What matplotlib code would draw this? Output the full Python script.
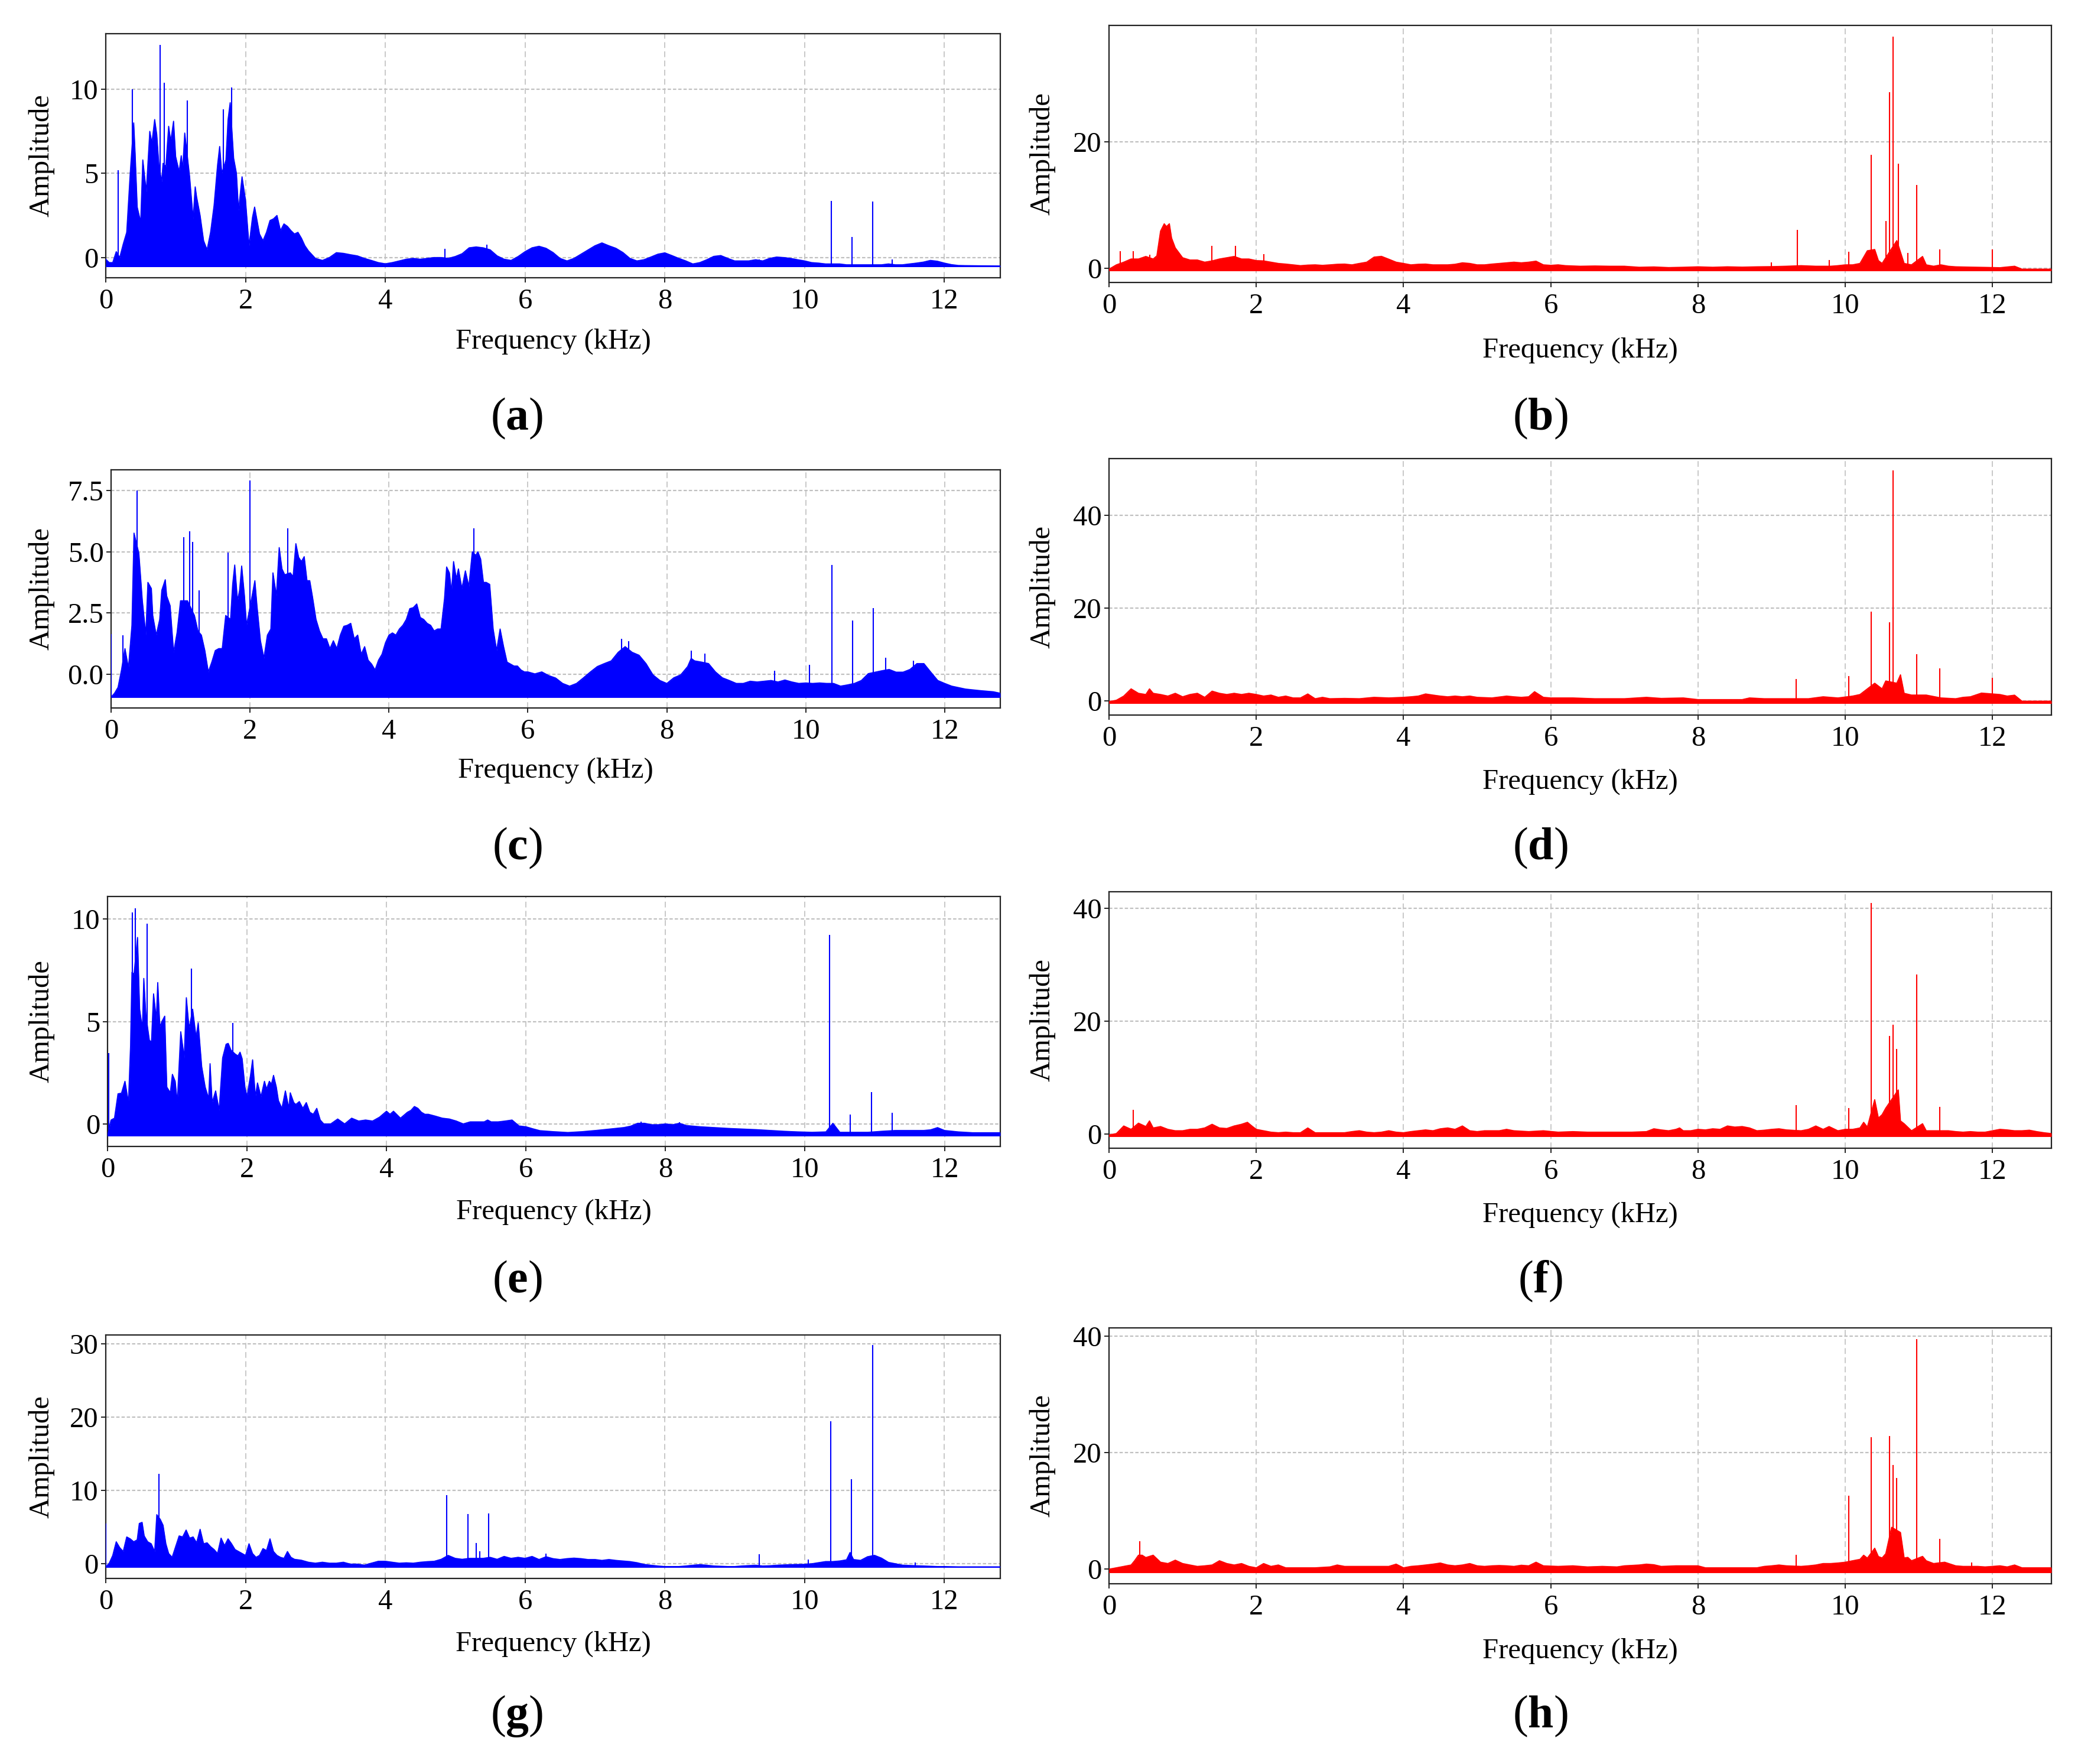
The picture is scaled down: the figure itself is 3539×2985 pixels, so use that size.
import matplotlib
matplotlib.use("Agg")
import matplotlib.pyplot as plt
from matplotlib.ticker import FixedLocator, FormatStrFormatter

plt.rcParams['font.family'] = ['Liberation Serif', 'DejaVu Serif']
plt.rcParams['mathtext.fontset'] = 'custom'
plt.rcParams['mathtext.rm'] = 'Liberation Serif'
plt.rcParams['mathtext.bf'] = 'Liberation Serif:bold'

# ---------------- data ----------------
# (a)
a_env_f = [0.0, 0.05, 0.1, 0.15, 0.2, 0.25, 0.3, 0.35, 0.4, 0.42, 0.45, 0.5, 0.53, 0.58, 0.63, 0.66, 0.7, 0.73, 0.76, 0.8,
           0.82, 0.86, 0.9, 0.93, 0.97, 1.0, 1.05, 1.08, 1.1, 1.13, 1.2, 1.25, 1.28, 1.3, 1.35, 1.4, 1.45, 1.5, 1.55, 1.6,
           1.63, 1.66, 1.72, 1.75, 1.78, 1.83, 1.87, 1.9, 1.95, 2.0, 2.05, 2.1, 2.13, 2.2, 2.25, 2.3, 2.35, 2.4, 2.45, 2.5,
           2.55, 2.6, 2.65, 2.7, 2.75, 2.8, 2.85, 2.9, 3.0, 3.1, 3.2, 3.3, 3.4, 3.5, 3.6, 3.7, 3.8, 3.9, 4.0, 4.1,
           4.2, 4.3, 4.4, 4.5, 4.6, 4.7, 4.8, 4.9, 5.0, 5.1, 5.2, 5.3, 5.4, 5.5, 5.6, 5.7, 5.8, 5.9, 6.0, 6.1,
           6.2, 6.3, 6.4, 6.5, 6.6, 6.7, 6.8, 6.9, 7.0, 7.1, 7.2, 7.3, 7.4, 7.5, 7.6, 7.7, 7.8, 7.9, 8.0, 8.1,
           8.2, 8.3, 8.4, 8.5, 8.6, 8.7, 8.8, 8.9, 9.0, 9.1, 9.2, 9.3, 9.4, 9.5, 9.6, 9.7, 9.8, 9.9, 10.0, 10.1,
           10.2, 10.3, 10.4, 10.5, 10.6, 10.7, 10.8, 10.9, 11.0, 11.1, 11.2, 11.3, 11.4, 11.5, 11.6, 11.7, 11.8, 11.9, 12.0, 12.1,
           12.2, 12.3, 12.5, 12.8]
a_env_a = [-0.1, -0.3, -0.3, 0.35, 0.0, 0.8, 1.5, 5.0, 8.0, 6.2, 3.0, 2.1, 5.8, 3.9, 7.5, 6.8, 8.2, 7.3, 5.5, 4.5,
           5.6, 5.4, 7.8, 6.9, 8.1, 6.0, 5.1, 6.05, 5.2, 7.4, 4.8, 2.3, 4.2, 3.6, 2.5, 1.0, 0.46, 1.5, 3.1, 5.5,
           6.6, 5.0, 5.8, 8.2, 9.2, 5.9, 5.0, 2.8, 4.8, 3.4, 0.7, 2.4, 3.0, 1.4, 1.0, 1.5, 2.2, 2.3, 2.5, 1.6,
           2.0, 1.85, 1.6, 1.4, 1.5, 1.15, 0.7, 0.4, -0.05, -0.17, 0.0, 0.29, 0.25, 0.17, 0.1, -0.05, -0.17, -0.3, -0.37, -0.3,
           -0.2, -0.1, -0.05, -0.1, -0.05, 0.0, 0.0, -0.05, 0.06, 0.23, 0.58, 0.63, 0.58, 0.46, 0.1, -0.1, -0.17, 0.06, 0.35, 0.58,
           0.67, 0.55, 0.3, -0.05, -0.2, -0.05, 0.2, 0.45, 0.7, 0.87, 0.7, 0.55, 0.3, -0.05, -0.2, -0.13, 0.03, 0.2, 0.28, 0.12,
           -0.05, -0.2, -0.38, -0.3, -0.13, 0.07, 0.12, -0.05, -0.2, -0.2, -0.2, -0.13, -0.2, -0.05, 0.03, 0.0, -0.05, -0.13, -0.2, -0.3,
           -0.33, -0.38, -0.38, -0.38, -0.43, -0.43, -0.43, -0.43, -0.43, -0.43, -0.38, -0.43, -0.43, -0.38, -0.33, -0.27, -0.17, -0.22, -0.33, -0.42,
           -0.47, -0.48, -0.49, -0.5]
a_floor = -0.55
a_spk_f = [0.18, 0.38, 0.78, 0.84, 1.17, 1.68, 1.8, 4.85, 5.45, 9.35, 10.38, 10.68, 10.97, 11.25]
a_spk_a = [5.2, 10.0, 12.65, 10.4, 9.35, 8.8, 10.1, 0.52, 0.75, -0.1, 3.38, 1.24, 3.33, -0.1]

# (b)
b_env_f = [0.0, 0.1, 0.2, 0.3, 0.4, 0.5, 0.6, 0.65, 0.7, 0.75, 0.78, 0.82, 0.85, 0.9, 1.0, 1.1, 1.2, 1.3, 1.4, 1.5,
           1.6, 1.7, 1.8, 1.9, 2.0, 2.1, 2.2, 2.3, 2.4, 2.5, 2.6, 2.7, 2.8, 2.9, 3.0, 3.1, 3.2, 3.3, 3.4, 3.5,
           3.6, 3.7, 3.8, 3.9, 4.0, 4.1, 4.2, 4.3, 4.4, 4.5, 4.6, 4.7, 4.8, 4.9, 5.0, 5.1, 5.2, 5.3, 5.4, 5.5,
           5.6, 5.7, 5.8, 5.9, 6.0, 6.1, 6.2, 6.4, 6.6, 6.8, 7.0, 7.2, 7.4, 7.6, 7.8, 8.0, 8.2, 8.4, 8.6, 8.8,
           9.0, 9.2, 9.4, 9.6, 9.8, 9.9, 10.0, 10.1, 10.2, 10.3, 10.4, 10.45, 10.5, 10.7, 10.8, 10.9, 11.05, 11.1, 11.2, 11.3,
           11.4, 11.5, 11.7, 11.9, 12.1, 12.3, 12.4, 12.8]
b_env_a = [-0.1, 0.58, 1.0, 1.5, 1.5, 1.9, 1.5, 2.0, 5.9, 7.05, 6.6, 7.05, 4.8, 3.26, 1.7, 1.34, 1.34, 1.0, 1.2, 1.5,
           1.7, 1.9, 1.5, 1.5, 1.25, 1.2, 1.0, 0.8, 0.7, 0.58, 0.45, 0.54, 0.58, 0.5, 0.58, 0.67, 0.7, 0.58, 0.8, 1.0,
           1.8, 1.92, 1.47, 1.0, 0.8, 0.58, 0.67, 0.7, 0.58, 0.58, 0.58, 0.67, 0.9, 0.8, 0.58, 0.58, 0.7, 0.8, 0.9, 1.0,
           0.9, 1.0, 1.16, 0.58, 0.5, 0.58, 0.45, 0.36, 0.4, 0.36, 0.36, 0.2, 0.25, 0.15, 0.2, 0.27, 0.2, 0.27, 0.22, 0.27,
           0.3, 0.36, 0.45, 0.36, 0.36, 0.45, 0.58, 0.58, 0.8, 2.8, 3.0, 1.25, 0.8, 4.4, 0.8, 0.58, 1.9, 0.58, 0.36, 0.58,
           0.36, 0.27, 0.22, 0.18, 0.13, 0.36, -0.1, -0.1]
b_floor = -0.3
b_spk_f = [0.15, 0.33, 0.55, 1.4, 1.72, 2.1, 9.0, 9.35, 9.78, 10.05, 10.35, 10.55, 10.6, 10.65, 10.72, 10.85, 10.97, 11.28, 12.0]
b_spk_a = [2.7, 2.7, 2.2, 3.57, 3.57, 2.23, 1.0, 6.07, 1.34, 2.68, 17.9, 7.5, 27.8, 36.5, 16.5, 2.46, 13.2, 3.0, 3.0]

# (c)
c_env_f = [0.0, 0.05, 0.1, 0.15, 0.2, 0.25, 0.3, 0.33, 0.4, 0.45, 0.5, 0.53, 0.58, 0.6, 0.65, 0.7, 0.73, 0.78, 0.8, 0.85,
           0.9, 0.95, 1.0, 1.1, 1.2, 1.25, 1.3, 1.35, 1.4, 1.45, 1.5, 1.55, 1.6, 1.65, 1.72, 1.75, 1.78, 1.82, 1.85, 1.88,
           1.92, 1.95, 2.03, 2.07, 2.1, 2.15, 2.2, 2.25, 2.3, 2.33, 2.38, 2.42, 2.46, 2.5, 2.58, 2.62, 2.66, 2.7, 2.74, 2.78,
           2.82, 2.86, 2.9, 2.95, 3.0, 3.05, 3.1, 3.15, 3.2, 3.25, 3.3, 3.35, 3.4, 3.45, 3.5, 3.55, 3.6, 3.65, 3.7, 3.75,
           3.8, 3.85, 3.9, 3.95, 4.0, 4.05, 4.1, 4.15, 4.2, 4.25, 4.3, 4.35, 4.4, 4.45, 4.5, 4.55, 4.6, 4.65, 4.7, 4.75,
           4.8, 4.83, 4.87, 4.9, 4.93, 4.97, 5.0, 5.05, 5.1, 5.15, 5.2, 5.25, 5.28, 5.32, 5.36, 5.4, 5.45, 5.5, 5.55, 5.6,
           5.65, 5.7, 5.75, 5.8, 5.85, 5.9, 5.95, 6.0, 6.1, 6.2, 6.3, 6.4, 6.5, 6.6, 6.7, 6.8, 6.9, 7.0, 7.1, 7.2,
           7.3, 7.4, 7.5, 7.6, 7.7, 7.8, 7.9, 8.0, 8.1, 8.2, 8.3, 8.35, 8.4, 8.5, 8.6, 8.7, 8.8, 8.9, 9.0, 9.1,
           9.2, 9.3, 9.4, 9.5, 9.6, 9.7, 9.8, 9.9, 10.0, 10.1, 10.2, 10.3, 10.4, 10.5, 10.6, 10.7, 10.8, 10.9, 11.0, 11.1,
           11.2, 11.3, 11.4, 11.5, 11.6, 11.7, 11.8, 11.9, 12.0, 12.1, 12.2, 12.3, 12.5, 12.7, 12.8]
c_env_a = [-0.93, -0.77, -0.53, 0.18, 1.05, 0.26, 2.0, 5.76, 4.93, 3.0, 1.6, 3.75, 3.5, 2.4, 1.6, 2.24, 3.43, 3.86, 3.2, 2.8,
           0.9, 1.7, 3.0, 3.0, 2.4, 1.77, 1.6, 0.97, 0.1, 0.5, 0.97, 1.05, 1.05, 2.4, 2.24, 3.67, 4.46, 3.0, 3.43, 4.42,
           3.2, 2.0, 3.2, 3.82, 2.8, 1.37, 0.66, 1.6, 1.85, 4.14, 3.2, 5.17, 4.3, 4.06, 4.14, 3.98, 5.33, 4.77, 4.6, 4.8,
           3.82, 3.82, 3.15, 2.24, 1.77, 1.45, 1.45, 1.05, 1.37, 1.05, 1.6, 1.96, 2.0, 2.08, 1.45, 1.6, 0.82, 1.13, 0.58, 0.42,
           0.18, 0.58, 0.82, 1.29, 1.6, 1.69, 1.6, 1.85, 2.0, 2.24, 2.68, 2.72, 2.87, 2.32, 2.24, 2.08, 2.0, 1.77, 1.85, 1.85,
           3.1, 4.38, 4.14, 3.35, 4.6, 3.9, 4.3, 3.5, 4.22, 3.58, 5.0, 4.85, 5.0, 4.7, 3.75, 3.75, 3.67, 1.85, 0.97, 1.85,
           1.13, 0.5, 0.42, 0.34, 0.34, 0.18, 0.1, 0.1, 0.02, 0.1, -0.05, -0.15, -0.37, -0.48, -0.37, -0.14, 0.1, 0.32, 0.44, 0.55,
           0.9, 1.13, 0.9, 0.78, 0.44, -0.02, -0.25, -0.37, -0.14, -0.02, 0.32, 0.65, 0.55, 0.5, 0.44, 0.1, -0.14, -0.25, -0.37, -0.37,
           -0.28, -0.31, -0.28, -0.25, -0.31, -0.23, -0.31, -0.37, -0.35, -0.37, -0.35, -0.37, -0.37, -0.48, -0.43, -0.37, -0.25, 0.03, 0.09, 0.15,
           0.2, 0.09, 0.09, 0.2, 0.44, 0.44, 0.09, -0.25, -0.37, -0.48, -0.54, -0.6, -0.66, -0.71, -0.77]
c_floor = -0.93
c_spk_f = [0.0, 0.17, 0.37, 1.05, 1.13, 1.17, 1.27, 1.68, 2.0, 2.54, 5.22, 7.35, 7.45, 8.35, 8.55, 9.55, 10.05, 10.38,
           10.67, 10.97, 11.15, 11.55]
c_spk_a = [1.65, 1.6, 7.5, 5.6, 5.83, 5.4, 3.43, 4.97, 7.9, 5.96, 5.96, 1.45, 1.36, 0.96, 0.84, 0.14, 0.38, 4.47,
           2.19, 2.7, 0.69, 0.55]

# (d)
d_env_f = [0.0, 0.1, 0.2, 0.3, 0.4, 0.5, 0.55, 0.6, 0.7, 0.8, 0.9, 1.0, 1.1, 1.2, 1.3, 1.4, 1.5, 1.6, 1.7, 1.8,
           1.9, 2.0, 2.1, 2.2, 2.3, 2.4, 2.5, 2.6, 2.7, 2.8, 2.9, 3.0, 3.2, 3.4, 3.6, 3.8, 4.0, 4.1, 4.2, 4.3,
           4.4, 4.5, 4.6, 4.7, 4.8, 4.9, 5.0, 5.2, 5.4, 5.5, 5.6, 5.7, 5.78, 5.9, 6.0, 6.3, 6.6, 7.0, 7.3, 7.5,
           7.8, 8.0, 8.3, 8.6, 8.7, 8.9, 9.2, 9.5, 9.7, 9.9, 10.1, 10.2, 10.3, 10.4, 10.5, 10.55, 10.7, 10.75, 10.8, 10.9,
           11.1, 11.3, 11.5, 11.6, 11.7, 11.85, 12.1, 12.2, 12.3, 12.4, 12.8]
d_env_a = [-0.2, 0.1, 1.0, 2.56, 1.6, 1.34, 2.56, 1.6, 1.34, 1.0, 1.6, 0.85, 1.34, 1.6, 0.73, 2.07, 1.6, 1.34, 1.6, 1.34,
           1.6, 1.34, 1.0, 1.22, 0.73, 1.0, 0.6, 0.6, 1.46, 0.43, 0.73, 0.43, 0.5, 0.43, 0.73, 0.6, 0.73, 0.85, 1.0, 1.46,
           1.22, 1.0, 0.85, 1.0, 0.85, 1.0, 0.73, 0.6, 1.0, 0.85, 0.73, 0.85, 1.95, 0.73, 0.6, 0.6, 0.43, 0.43, 0.73, 0.5,
           0.6, 0.24, 0.24, 0.24, 0.6, 0.43, 0.43, 0.43, 0.85, 0.6, 1.0, 1.34, 2.56, 3.78, 2.56, 4.27, 3.78, 5.6, 1.6, 1.22,
           1.22, 0.6, 0.43, 0.73, 0.85, 1.65, 1.34, 1.0, 1.2, -0.1, -0.1]
d_floor = -0.6
d_spk_f = [9.33, 10.05, 10.35, 10.6, 10.65, 10.97, 11.28, 12.0]
d_spk_a = [4.7, 5.3, 19.2, 16.9, 49.8, 10.1, 6.95, 5.0]

# (e)
e_env_f = [0.0, 0.05, 0.1, 0.15, 0.2, 0.25, 0.3, 0.33, 0.35, 0.38, 0.43, 0.46, 0.5, 0.52, 0.55, 0.6, 0.63, 0.66, 0.7, 0.72,
           0.75, 0.78, 0.82, 0.85, 0.9, 0.93, 0.97, 1.0, 1.05, 1.1, 1.13, 1.17, 1.22, 1.27, 1.3, 1.35, 1.4, 1.45, 1.47, 1.5,
           1.55, 1.6, 1.65, 1.7, 1.73, 1.77, 1.83, 1.87, 1.9, 1.93, 1.97, 2.0, 2.05, 2.08, 2.12, 2.15, 2.2, 2.25, 2.28, 2.32,
           2.35, 2.38, 2.42, 2.45, 2.5, 2.55, 2.6, 2.62, 2.67, 2.7, 2.75, 2.8, 2.85, 2.9, 2.95, 3.0, 3.05, 3.1, 3.2, 3.3,
           3.4, 3.5, 3.6, 3.7, 3.8, 3.9, 4.0, 4.05, 4.1, 4.2, 4.3, 4.35, 4.4, 4.45, 4.5, 4.55, 4.6, 4.7, 4.8, 4.9,
           5.0, 5.1, 5.2, 5.3, 5.4, 5.45, 5.5, 5.6, 5.7, 5.8, 5.9, 6.0, 6.1, 6.2, 6.4, 6.6, 6.8, 7.0, 7.2, 7.4,
           7.5, 7.6, 7.7, 7.8, 7.9, 8.0, 8.1, 8.2, 8.3, 8.4, 8.5, 8.7, 8.9, 9.1, 9.3, 9.5, 9.7, 9.9, 10.1, 10.3,
           10.4, 10.5, 10.7, 10.9, 11.1, 11.3, 11.5, 11.7, 11.8, 11.9, 12.0, 12.2, 12.4, 12.8]
e_env_a = [-0.57, 0.19, 0.28, 1.47, 1.5, 2.08, 1.04, 3.8, 7.4, 7.3, 9.1, 5.6, 4.64, 7.1, 5.3, 4.08, 4.0, 6.35, 5.1, 6.9,
           4.74, 5.0, 5.26, 1.8, 1.52, 2.42, 2.08, 1.04, 4.5, 3.22, 6.16, 4.64, 5.6, 4.22, 4.93, 2.8, 1.8, 1.23, 2.94, 1.04,
           1.61, 0.66, 3.22, 3.89, 3.93, 3.6, 3.41, 3.32, 3.5, 3.18, 1.8, 1.33, 2.37, 3.13, 1.33, 2.0, 1.33, 2.08, 1.7, 2.08,
           1.94, 2.37, 1.8, 1.14, 0.76, 1.61, 0.76, 1.52, 1.04, 0.95, 1.09, 0.76, 1.04, 0.57, 0.47, 0.76, 0.19, 0.0, 0.0, 0.24,
           0.0, 0.28, 0.14, 0.19, 0.14, 0.33, 0.62, 0.47, 0.62, 0.28, 0.57, 0.66, 0.85, 0.76, 0.57, 0.47, 0.47, 0.38, 0.28, 0.24,
           0.14, 0.0, 0.1, 0.1, 0.1, 0.19, 0.1, 0.1, 0.14, 0.19, -0.1, -0.14, -0.24, -0.33, -0.38, -0.42, -0.38, -0.32, -0.25, -0.18,
           -0.11, 0.03, 0.03, -0.04, -0.04, 0.0, -0.04, 0.03, -0.08, -0.11, -0.14, -0.18, -0.22, -0.25, -0.28, -0.32, -0.36, -0.39, -0.41, -0.39,
           0.03, -0.41, -0.41, -0.41, -0.36, -0.32, -0.32, -0.32, -0.29, -0.18, -0.32, -0.39, -0.43, -0.43]
e_floor = -0.57
e_spk_f = [0.02, 0.36, 0.4, 0.57, 1.2, 1.8, 7.65, 8.2, 10.35, 10.65, 10.95, 11.25]
e_spk_a = [3.46, 10.33, 10.52, 9.76, 7.58, 4.93, 0.12, 0.07, 9.23, 0.47, 1.54, 0.54]

# (f)
f_env_f = [0.0, 0.1, 0.2, 0.3, 0.4, 0.5, 0.55, 0.6, 0.7, 0.8, 0.9, 1.0, 1.1, 1.2, 1.3, 1.4, 1.5, 1.6, 1.7, 1.8,
           1.88, 1.95, 2.0, 2.1, 2.2, 2.3, 2.4, 2.5, 2.6, 2.7, 2.8, 3.0, 3.2, 3.3, 3.4, 3.5, 3.6, 3.7, 3.8, 3.9,
           4.0, 4.1, 4.2, 4.3, 4.4, 4.5, 4.6, 4.7, 4.8, 4.9, 5.0, 5.1, 5.3, 5.4, 5.5, 5.7, 5.9, 6.1, 6.3, 6.5,
           6.7, 6.9, 7.1, 7.3, 7.4, 7.5, 7.6, 7.7, 7.75, 7.8, 7.9, 8.0, 8.1, 8.2, 8.3, 8.4, 8.5, 8.6, 8.7, 8.8,
           8.9, 9.0, 9.1, 9.2, 9.4, 9.5, 9.6, 9.7, 9.78, 9.9, 10.0, 10.1, 10.2, 10.25, 10.3, 10.4, 10.45, 10.5, 10.55, 10.72,
           10.75, 10.8, 10.9, 11.05, 11.1, 11.4, 11.5, 11.6, 11.7, 11.8, 11.9, 12.0, 12.1, 12.2, 12.3, 12.4, 12.5, 12.6, 12.7, 12.8]
f_env_a = [-0.2, 0.05, 1.4, 0.8, 1.9, 1.3, 2.3, 1.05, 1.3, 0.8, 0.55, 0.55, 0.8, 0.8, 1.05, 1.7, 1.05, 0.95, 1.4, 1.7,
           2.05, 1.3, 0.8, 0.55, 0.3, 0.2, 0.3, 0.2, 0.2, 1.05, 0.2, 0.2, 0.2, 0.4, 0.55, 0.3, 0.2, 0.3, 0.55, 0.3,
           0.2, 0.4, 0.55, 0.7, 0.55, 0.9, 1.05, 0.8, 1.4, 0.55, 0.4, 0.55, 0.55, 0.8, 0.55, 0.4, 0.55, 0.3, 0.4, 0.3,
           0.3, 0.3, 0.3, 0.4, 0.9, 0.7, 0.55, 0.8, 1.05, 0.55, 0.55, 0.8, 0.7, 0.9, 0.8, 1.4, 1.2, 1.3, 1.05, 0.55,
           0.65, 0.8, 0.9, 0.7, 0.55, 0.8, 1.4, 0.8, 1.3, 0.55, 0.8, 0.8, 1.05, 2.05, 1.2, 6.07, 2.8, 3.4, 4.57, 7.8,
           2.3, 1.8, 0.55, 1.8, 0.55, 0.55, 0.4, 0.3, 0.4, 0.3, 0.3, 0.55, 0.8, 0.7, 0.55, 0.55, 0.65, 0.4, 0.2, 0.05]
f_floor = -0.45
f_spk_f = [0.33, 9.33, 10.05, 10.35, 10.6, 10.65, 10.7, 10.97, 11.28]
f_spk_a = [4.3, 5.07, 4.57, 41.0, 17.4, 19.4, 15.1, 28.3, 4.8]

# (g)
g_env_f = [0.0, 0.05, 0.1, 0.15, 0.2, 0.25, 0.3, 0.35, 0.4, 0.45, 0.48, 0.52, 0.55, 0.6, 0.65, 0.7, 0.73, 0.78, 0.82, 0.86,
           0.9, 0.95, 1.0, 1.05, 1.1, 1.15, 1.2, 1.25, 1.3, 1.35, 1.4, 1.45, 1.5, 1.55, 1.6, 1.65, 1.7, 1.75, 1.8, 1.85,
           1.9, 1.95, 2.0, 2.05, 2.1, 2.15, 2.2, 2.25, 2.3, 2.35, 2.4, 2.45, 2.5, 2.55, 2.6, 2.65, 2.7, 2.8, 2.9, 3.0,
           3.1, 3.2, 3.3, 3.4, 3.5, 3.6, 3.7, 3.8, 3.9, 4.0, 4.1, 4.2, 4.3, 4.4, 4.5, 4.6, 4.7, 4.8, 4.9, 5.0,
           5.1, 5.2, 5.4, 5.5, 5.6, 5.7, 5.8, 5.9, 6.0, 6.1, 6.2, 6.3, 6.4, 6.5, 6.6, 6.7, 6.8, 6.9, 7.0, 7.1,
           7.2, 7.3, 7.4, 7.5, 7.6, 7.7, 7.8, 7.9, 8.0, 8.2, 8.3, 8.4, 8.5, 8.6, 8.7, 8.9, 9.0, 9.1, 9.3, 9.4,
           9.5, 9.6, 9.8, 10.0, 10.1, 10.2, 10.3, 10.4, 10.5, 10.6, 10.65, 10.7, 10.8, 10.9, 11.0, 11.1, 11.2, 11.3, 11.4, 11.5,
           11.6, 11.7, 11.8, 11.9, 12.0, 12.2, 12.8]
g_env_a = [-0.45, 0.08, 1.14, 3.0, 2.2, 1.67, 3.66, 3.4, 3.0, 3.26, 5.5, 5.65, 3.8, 3.0, 2.73, 1.67, 6.7, 6.05, 5.25, 2.73,
           1.4, 0.88, 2.33, 3.8, 3.66, 4.6, 3.5, 3.66, 2.86, 4.7, 2.73, 2.86, 2.33, 1.94, 1.4, 3.5, 2.47, 3.4, 2.73, 1.94,
           1.67, 1.4, 1.14, 2.73, 1.4, 0.88, 1.14, 2.07, 1.8, 3.4, 1.67, 1.14, 0.88, 0.74, 1.67, 0.88, 0.61, 0.48, 0.21, 0.08,
           0.21, 0.08, 0.08, 0.21, -0.05, -0.05, -0.19, 0.08, 0.34, 0.34, 0.21, 0.08, 0.13, 0.08, 0.21, 0.29, 0.34, 0.61, 1.14, 0.74,
           0.61, 0.74, 0.74, 0.88, 0.61, 1.0, 0.74, 0.88, 0.74, 1.0, 0.58, 0.96, 0.7, 0.58, 0.7, 0.77, 0.7, 0.58, 0.58, 0.46,
           0.58, 0.46, 0.38, 0.3, 0.15, -0.08, -0.2, -0.3, -0.38, -0.38, -0.3, -0.2, -0.12, -0.2, -0.3, -0.38, -0.38, -0.3, -0.2, -0.3,
           -0.27, -0.2, -0.12, -0.08, 0.0, 0.15, 0.3, 0.3, 0.38, 0.54, 1.54, 0.58, 0.46, 0.96, 1.15, 0.77, 0.19, 0.0, -0.19, -0.23,
           -0.27, -0.3, -0.34, -0.38, -0.38, -0.42, -0.42]
g_floor = -0.45
g_spk_f = [0.0, 0.76, 4.88, 5.18, 5.3, 5.35, 5.48, 6.3, 9.35, 10.05, 10.37, 10.67, 10.97, 11.58]
g_spk_a = [5.5, 12.3, 9.36, 6.76, 2.8, 1.67, 6.84, 1.42, 1.27, 0.58, 19.4, 11.5, 29.8, 0.2]

# (h)
h_env_f = [0.0, 0.1, 0.2, 0.3, 0.35, 0.4, 0.45, 0.5, 0.55, 0.6, 0.7, 0.8, 0.9, 1.0, 1.1, 1.2, 1.3, 1.4, 1.5, 1.6,
           1.7, 1.8, 1.9, 2.0, 2.1, 2.2, 2.3, 2.4, 2.6, 2.8, 3.0, 3.1, 3.2, 3.4, 3.6, 3.8, 3.9, 4.0, 4.1, 4.2,
           4.3, 4.4, 4.5, 4.6, 4.7, 4.8, 4.9, 5.0, 5.1, 5.2, 5.3, 5.4, 5.5, 5.6, 5.7, 5.8, 5.9, 6.1, 6.3, 6.5,
           6.7, 6.9, 7.0, 7.2, 7.3, 7.4, 7.5, 7.7, 7.9, 8.0, 8.1, 8.4, 8.8, 8.9, 9.0, 9.1, 9.2, 9.4, 9.5, 9.6,
           9.7, 9.8, 9.9, 10.0, 10.1, 10.2, 10.25, 10.3, 10.4, 10.45, 10.5, 10.55, 10.63, 10.75, 10.8, 10.85, 10.9, 11.05, 11.1, 11.2,
           11.35, 11.5, 11.6, 11.8, 11.9, 12.0, 12.1, 12.2, 12.3, 12.4, 12.8]
h_env_a = [0.0, 0.24, 0.48, 0.72, 1.5, 2.4, 2.4, 2.0, 2.2, 2.4, 1.2, 0.97, 1.55, 0.97, 0.72, 0.48, 0.58, 0.72, 1.45, 0.97,
           0.72, 0.97, 0.48, 0.24, 0.97, 0.48, 0.72, 0.24, 0.24, 0.24, 0.39, 0.72, 0.48, 0.48, 0.48, 0.48, 0.87, 0.24, 0.48, 0.58,
           0.72, 0.87, 1.06, 0.72, 0.58, 0.72, 0.97, 0.58, 0.48, 0.58, 0.63, 0.58, 0.48, 0.68, 0.58, 1.2, 0.58, 0.48, 0.58, 0.39,
           0.48, 0.39, 0.58, 0.72, 0.87, 0.77, 0.48, 0.58, 0.58, 0.58, 0.24, 0.24, 0.24, 0.48, 0.58, 0.72, 0.58, 0.48, 0.58, 0.72,
           0.97, 0.97, 1.06, 1.2, 1.45, 1.69, 2.4, 1.9, 3.6, 2.17, 1.93, 2.66, 7.2, 6.3, 1.93, 2.03, 1.45, 2.2, 1.45, 0.97,
           1.2, 0.58, 0.48, 0.48, 0.39, 0.48, 0.58, 0.39, 0.72, 0.24, 0.24]
h_floor = -0.58
h_spk_f = [0.42, 9.33, 10.05, 10.35, 10.6, 10.65, 10.7, 10.97, 11.28, 11.72]
h_spk_a = [4.83, 2.5, 12.6, 22.6, 22.8, 17.9, 15.6, 39.5, 5.2, 1.2]

x_ticks = [0, 2, 4, 6, 8, 10, 12]
y_ticks = {'a': [0, 5, 10], 'b': [0, 20], 'c': [0.0, 2.5, 5.0, 7.5], 'd': [0, 20, 40],
           'e': [0, 5, 10], 'f': [0, 20, 40], 'g': [0, 10, 20, 30], 'h': [0, 20, 40]}
panel_letters = ['a', 'b', 'c', 'd', 'e', 'f', 'g', 'h']

# ---------------- layout ----------------
W, H = 3539, 2985
fig = plt.figure(figsize=(W / 100, H / 100), dpi=100)
fig.patch.set_facecolor('white')

# pixel boxes (left, right, top, bottom) and y-limits
boxes = {
    'a': (179, 1693, 57, 470), 'b': (1877, 3472, 43, 478),
    'c': (188, 1693, 795, 1198), 'd': (1877, 3472, 776, 1210),
    'e': (182, 1693, 1517, 1940), 'f': (1877, 3472, 1509, 1943),
    'g': (179, 1693, 2259, 2671), 'h': (1877, 3472, 2247, 2680),
}
ylims = {'a': (-1.2, 13.3), 'b': (-2.2, 38.3), 'c': (-1.37, 8.34), 'd': (-3.1, 52.3),
         'e': (-1.1, 11.1), 'f': (-2.55, 42.95), 'g': (-2.0, 31.2), 'h': (-2.5, 41.4)}
letter_y = {'a': 708, 'b': 708, 'c': 1435, 'd': 1435, 'e': 2168, 'f': 2168, 'g': 2904, 'h': 2904}
xlabel_off = {'a': 108, 'b': 115, 'c': 106, 'd': 113, 'e': 111, 'f': 113, 'g': 111, 'h': 114}

data = {
    'a': (a_env_f, a_env_a, a_floor, a_spk_f, a_spk_a, '#0000FF'),
    'b': (b_env_f, b_env_a, b_floor, b_spk_f, b_spk_a, '#FF0000'),
    'c': (c_env_f, c_env_a, c_floor, c_spk_f, c_spk_a, '#0000FF'),
    'd': (d_env_f, d_env_a, d_floor, d_spk_f, d_spk_a, '#FF0000'),
    'e': (e_env_f, e_env_a, e_floor, e_spk_f, e_spk_a, '#0000FF'),
    'f': (f_env_f, f_env_a, f_floor, f_spk_f, f_spk_a, '#FF0000'),
    'g': (g_env_f, g_env_a, g_floor, g_spk_f, g_spk_a, '#0000FF'),
    'h': (h_env_f, h_env_a, h_floor, h_spk_f, h_spk_a, '#FF0000'),
}

FS = 35
for key in panel_letters:
    L, R, T, B = boxes[key]
    ax = fig.add_axes([L / W, 1 - B / H, (R - L) / W, (B - T) / H])
    env_f, env_a, floor, spk_f, spk_a, col = data[key]

    ax.fill_between(env_f, floor, env_a, color=col, lw=0, zorder=3)
    ax.plot(env_f, env_a, color=col, lw=1.3, zorder=3)
    ax.plot([env_f[0], env_f[-1]], [floor, floor], color=col, lw=1.3, zorder=3)
    ax.vlines(spk_f, floor, spk_a, color=col, lw=1.5, zorder=3)

    ax.set_xlim(0, 12.8)
    ax.set_ylim(*ylims[key])
    ax.xaxis.set_major_locator(FixedLocator(x_ticks))
    ax.yaxis.set_major_locator(FixedLocator(y_ticks[key]))
    if key == 'c':
        ax.yaxis.set_major_formatter(FormatStrFormatter('%.1f'))
    else:
        ax.yaxis.set_major_formatter(FormatStrFormatter('%d'))

    ax.grid(True, axis='x', color='#c8c8c8', lw=1.4, linestyle=(0, (5, 3)), zorder=0)
    ax.grid(True, axis='y', color='#c0c0c0', lw=1.6, linestyle=(0, (2.5, 1.5)), zorder=0)
    ax.set_axisbelow(True)

    for sp in ax.spines.values():
        sp.set_linewidth(1.6)
        sp.set_color('#222222')

    ax.tick_params(axis='both', direction='out', length=6, width=1.4, labelsize=FS, color='#222222')
    ax.tick_params(axis='x', pad=7)
    ax.tick_params(axis='y', pad=3)

    ax.set_xlabel('Frequency (kHz)', fontsize=FS)
    ax.xaxis.label.set_va('center')
    ax.xaxis.set_label_coords(0.5, -xlabel_off[key] / (B - T))

    ax.set_ylabel('Amplitude', fontsize=FS)
    ax.yaxis.label.set_va('center')
    lab_x = 70 if L < 1000 else 1764
    ax.yaxis.set_label_coords((lab_x - L) / (R - L), 0.5)

    cx = 875 if L < 1000 else 2607
    fig.text(cx / W, 1 - letter_y[key] / H, r'($\mathbf{%s}$)' % key, fontsize=56,
             ha='center', va='center')

fig.savefig('out.png', dpi=100, facecolor='white')
